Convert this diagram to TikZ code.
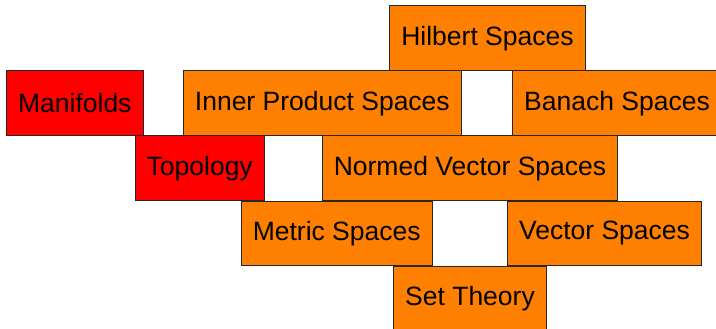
\documentclass[tikz,border=0pt]{standalone}
\usepackage{fontspec}
\setmainfont{Liberation Sans}
\usepackage{tikz}

\definecolor{boxorange}{RGB}{255,128,0}
\definecolor{boxred}{RGB}{255,0,0}

\tikzset{
  area/.style={draw=black!85, line width=1pt, fill=boxorange, minimum height=64.5pt,
    inner xsep=11.5pt, font=\fontsize{26.5}{30}\selectfont},
  outside/.style={area, fill=boxred}
}

\begin{document}
\begin{tikzpicture}[x=1pt, y=-1pt]
\useasboundingbox (0,0) rectangle (716,329);
\clip (0,0) rectangle (716,329);
\node[area, minimum width=195.6pt] (hilbert) at (487.5,38.25) {Hilbert Spaces};
\node[outside, minimum width=135pt] (manifolds) at (74.8,103.25) {Manifolds};
\node[area, minimum width=277.3pt] (inner) at (322.35,103.25) {Inner Product Spaces};
\node[area, minimum width=206pt] (banach) at (617,103.25) {Banach Spaces};
\node[outside, minimum width=128pt] (topology) at (199.7,168.25) {Topology};
\node[area, minimum width=294.6pt] (normed) at (470,168.25) {Normed Vector Spaces};
\node[area, minimum width=190pt] (metric) at (336.7,233.25) {Metric Spaces};
\node[area, minimum width=192.4pt] (vector) at (604.5,233.25) {Vector Spaces};
\node[area, minimum width=152pt] (set) at (470,298.25) {Set Theory};
\end{tikzpicture}
\end{document}
